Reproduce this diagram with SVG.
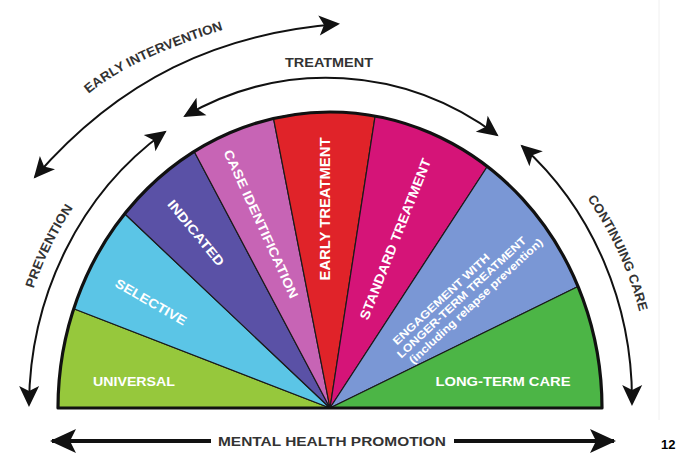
<svg xmlns="http://www.w3.org/2000/svg" width="682" height="457" viewBox="0 0 682 457">
<style>
.seg{stroke:#1a1a1a;stroke-width:1.2;stroke-linejoin:round}
.lbl{font-family:"Liberation Sans",Arial,sans-serif;font-weight:bold;fill:#ffffff}
.out{font-family:"Liberation Sans",Arial,sans-serif;font-weight:bold;fill:#333333}
.arc{fill:none;stroke:#111;stroke-width:2}
.bar{fill:none;stroke:#111;stroke-width:4}
</style>
<defs>
<marker id="ah" viewBox="-22 -11 24 22" markerWidth="24" markerHeight="22" refX="-2" refY="0" orient="auto-start-reverse" markerUnits="userSpaceOnUse">
<path d="M0,0 L-21,-10 L-16,0 L-21,10 Z" fill="#111"/>
</marker>
<marker id="ahb" viewBox="-27 -13 29 26" markerWidth="29" markerHeight="26" refX="-2" refY="0" orient="auto-start-reverse" markerUnits="userSpaceOnUse">
<path d="M0,0 L-26,-12 L-20,0 L-26,12 Z" fill="#111"/>
</marker>
<path id="tpEI" d="M82,100 Q123,60 232,27"/>
<path id="tpPR" d="M32.5,292 A318 345 0 0 1 75,205"/>
<path id="tpCC" d="M581,190 A320 347 0 0 1 642,322"/>
</defs>
<rect width="682" height="457" fill="#ffffff"/>
<line x1="659" y1="0" x2="659" y2="420" stroke="#f0f0f0" stroke-width="1"/>

<g id="fan">
<g id="universal"><path class="seg" fill="#96c83c" d="M330,408 L58,408 A272 296 0 0 1 73.8,308.7 Z"/>
<text class="lbl" x="134" y="385.5" font-size="12.5" text-anchor="middle" textLength="82" lengthAdjust="spacingAndGlyphs">UNIVERSAL</text></g>
<g id="selective"><path class="seg" fill="#5bc5e6" d="M330,408 L73.8,308.7 A272 296 0 0 1 124.7,213.8 Z"/>
<text class="lbl" transform="translate(151,302) rotate(30)" y="4.5" font-size="13" text-anchor="middle" textLength="80" lengthAdjust="spacingAndGlyphs">SELECTIVE</text></g>
<g id="indicated"><path class="seg" fill="#5a51a6" d="M330,408 L124.7,213.8 A272 296 0 0 1 194.2,151.5 Z"/>
<text class="lbl" transform="translate(196,233) rotate(50.5)" y="4.5" font-size="13" text-anchor="middle" textLength="81" lengthAdjust="spacingAndGlyphs">INDICATED</text></g>
<g id="case-identification"><path class="seg" fill="#c764b5" d="M330,408 L194.2,151.5 A272 296 0 0 1 273.5,118.4 Z"/>
<text class="lbl" transform="translate(261,224) rotate(65.5)" y="4.5" font-size="13" text-anchor="middle" textLength="162" lengthAdjust="spacingAndGlyphs">CASE IDENTIFICATION</text></g>
<g id="early-treatment"><path class="seg" fill="#e02329" d="M330,408 L273.5,118.4 A272 296 0 0 1 375.1,116.1 Z"/>
<text class="lbl" transform="translate(325,209) rotate(-90)" y="5" font-size="14.5" text-anchor="middle" textLength="143" lengthAdjust="spacingAndGlyphs">EARLY TREATMENT</text></g>
<g id="standard-treatment"><path class="seg" fill="#d51478" d="M330,408 L375.1,116.1 A272 296 0 0 1 487.3,166.5 Z"/>
<text class="lbl" transform="translate(395,239) rotate(-68.4)" y="5" font-size="13.5" text-anchor="middle" textLength="172" lengthAdjust="spacingAndGlyphs">STANDARD TREATMENT</text></g>
<g id="engagement"><path class="seg" fill="#7a97d5" d="M330,408 L487.3,166.5 A272 296 0 0 1 578,286.5 Z"/>
<g transform="translate(462,298) rotate(-43)">
<text class="lbl" x="-16" y="-9.5" font-size="11" text-anchor="middle" textLength="128" lengthAdjust="spacingAndGlyphs">ENGAGEMENT WITH</text>
<text class="lbl" x="0" y="3" font-size="11" text-anchor="middle" textLength="172" lengthAdjust="spacingAndGlyphs">LONGER-TERM TREATMENT</text>
<text class="lbl" x="8" y="15.5" font-size="11" text-anchor="middle" textLength="178" lengthAdjust="spacingAndGlyphs">(including relapse prevention)</text>
</g></g>
<g id="long-term-care"><path class="seg" fill="#4cb546" d="M330,408 L578,286.5 A272 296 0 0 1 602,408 Z"/>
<text class="lbl" x="503" y="385.5" font-size="12.5" text-anchor="middle" textLength="135" lengthAdjust="spacingAndGlyphs">LONG-TERM CARE</text></g>
<path id="outline" d="M58,408 A272 296 0 0 1 602,408 Z" fill="none" stroke="#111" stroke-width="3.2" stroke-linejoin="round"/>
</g>

<g id="connectors">
<path class="arc" d="M29,405 A303 330 0 0 1 165,132" marker-start="url(#ah)" marker-end="url(#ah)"/>
<path class="arc" d="M185,116 A303 330 0 0 1 497,135" marker-start="url(#ah)" marker-end="url(#ah)"/>
<path class="arc" d="M522,146 A303 330 0 0 1 632,404" marker-start="url(#ah)" marker-end="url(#ah)"/>
<path class="arc" d="M35,177 C120,79 218,33.5 338,24" marker-start="url(#ah)" marker-end="url(#ah)"/>
<path class="bar" d="M211,441 H52" marker-end="url(#ahb)"/>
<path class="bar" d="M454,441 H614" marker-end="url(#ahb)"/>
</g>

<g id="labels">
<text class="out" font-size="13"><textPath href="#tpEI" startOffset="50%" text-anchor="middle" textLength="150" lengthAdjust="spacingAndGlyphs">EARLY INTERVENTION</textPath></text>
<text class="out" x="329" y="67" font-size="13" text-anchor="middle" textLength="88" lengthAdjust="spacingAndGlyphs">TREATMENT</text>
<text class="out" font-size="13"><textPath href="#tpPR" startOffset="50%" text-anchor="middle" textLength="90" lengthAdjust="spacingAndGlyphs">PREVENTION</textPath></text>
<text class="out" font-size="13"><textPath href="#tpCC" startOffset="50%" text-anchor="middle" textLength="125" lengthAdjust="spacingAndGlyphs">CONTINUING CARE</textPath></text>
<text class="out" x="332" y="446" font-size="13" text-anchor="middle" textLength="228" lengthAdjust="spacingAndGlyphs">MENTAL HEALTH PROMOTION</text>
<text x="661" y="449" font-family="Liberation Sans,Arial,sans-serif" font-weight="bold" font-size="13" fill="#000">12</text>
</g>
</svg>
